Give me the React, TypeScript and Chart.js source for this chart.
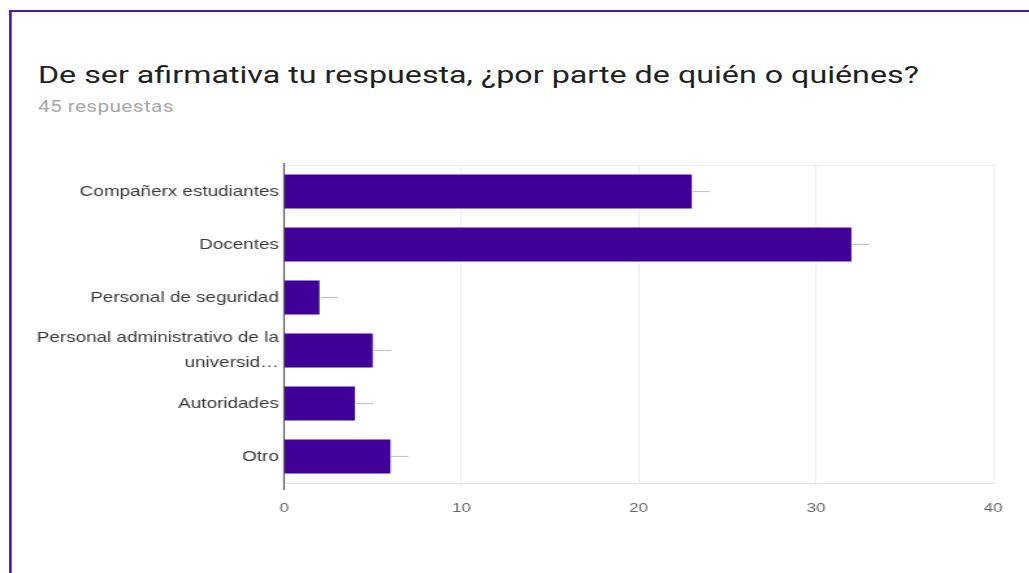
import React, { useEffect, useRef } from "react";
import { Chart, registerables } from "chart.js";

Chart.register(...registerables);

// ---- data ----
const titleText = "De ser afirmativa tu respuesta, ¿por parte de quién o quiénes?";
const subtitleText = "45 respuestas";
const categories: (string | string[])[] = [
  "Compañerx estudiantes",
  "Docentes",
  "Personal de seguridad",
  ["Personal administrativo de la", "universid…"],
  "Autoridades",
  "Otro",
];
const counts = [23, 32, 2, 5, 4, 6];
const xMin = 0;
const xMax = 40;
const xStep = 10;

// ---- layout (unscaled space; the whole picture is stretched horizontally) ----
const SX = 1.3;
const W = 1029 / SX;
const H = 573;
const CANVAS_TOP = 140;
const CANVAS_H = 400;
const BAR_COLOR = "#410098";

const framePlugin = {
  id: "frameLines",
  beforeDatasetsDraw(chart: any) {
    const { ctx, chartArea } = chart;
    ctx.save();
    ctx.strokeStyle = "#ececec";
    ctx.lineWidth = 1;
    ctx.beginPath();
    ctx.moveTo(chartArea.left, chartArea.top + 0.5);
    ctx.lineTo(chartArea.right, chartArea.top + 0.5);
    ctx.stroke();
    ctx.restore();
  },
  afterDatasetsDraw(chart: any) {
    const { ctx, chartArea } = chart;
    ctx.save();
    // value marks at the end of each bar
    const meta = chart.getDatasetMeta(0);
    ctx.strokeStyle = "#c4c4c4";
    ctx.lineWidth = 1.2;
    meta.data.forEach((bar: any) => {
      ctx.beginPath();
      ctx.moveTo(bar.x + 1, bar.y);
      ctx.lineTo(bar.x + 14, bar.y);
      ctx.stroke();
    });
    // vertical axis line
    ctx.strokeStyle = "#5a5a5a";
    ctx.lineWidth = 1.2;
    ctx.beginPath();
    ctx.moveTo(chartArea.left, chartArea.top - 2);
    ctx.lineTo(chartArea.left, chartArea.bottom + 7);
    ctx.stroke();
    ctx.restore();
  },
};

export default function App() {
  const canvasRef = useRef<HTMLCanvasElement | null>(null);

  useEffect(() => {
    if (!canvasRef.current) return;
    const chart = new Chart(canvasRef.current, {
      type: "bar",
      data: {
        labels: categories,
        datasets: [
          {
            data: counts,
            backgroundColor: BAR_COLOR,
            borderWidth: 0,
            categoryPercentage: 1,
            barPercentage: 0.64,
          },
        ],
      },
      options: {
        indexAxis: "y",
        responsive: false,
        animation: false,
        layout: { padding: { left: 0, right: 28, top: 25, bottom: 17 } },
        plugins: {
          legend: { display: false },
          tooltip: { enabled: false },
          title: { display: false },
        },
        scales: {
          x: {
            min: xMin,
            max: xMax,
            ticks: {
              stepSize: xStep,
              color: "#666",
              padding: 18,
              font: { family: "Liberation Sans, Arial", size: 13 },
            },
            grid: { color: "#ececec", lineWidth: 1, drawTicks: false },
            border: { display: true, color: "#e3e3e3" },
            afterFit(scale: any) {
              scale.height = 40;
            },
          },
          y: {
            ticks: {
              autoSkip: false,
              color: "#3a3a3a",
              padding: 4,
              font: { family: "Liberation Sans, Arial", size: 14.5, lineHeight: 1.75 },
            },
            grid: { display: false, drawTicks: false },
            border: { display: false },
            afterFit(scale: any) {
              scale.width = 218.5;
            },
          },
        },
      },
      plugins: [framePlugin],
    });
    return () => chart.destroy();
  }, []);

  return (
    <div
      style={{
        position: "fixed",
        left: 0,
        top: 0,
        width: W,
        height: H,
        overflow: "hidden",
        background: "#fff",
        transform: `scaleX(${SX})`,
        transformOrigin: "0 0",
      }}
    >
      <div
        style={{
          position: "absolute",
          left: 7,
          top: 9.5,
          width: 2000,
          height: 2000,
          borderTop: "2px solid #4b14ad",
          borderLeft: "2px solid #4b14ad",
        }}
      />
      <div
        style={{
          position: "absolute",
          left: 29.2,
          top: 60,
          fontFamily: "Roboto, sans-serif",
          fontSize: 24.8,
          lineHeight: "30px",
          color: "#222",
          whiteSpace: "nowrap",
        }}
      >
        {titleText}
      </div>
      <div
        style={{
          position: "absolute",
          left: 29.2,
          top: 98,
          fontFamily: "Roboto, sans-serif",
          fontSize: 16,
          letterSpacing: 0.3,
          lineHeight: "18px",
          color: "#a8a8a8",
          whiteSpace: "nowrap",
        }}
      >
        {subtitleText}
      </div>
      <canvas
        ref={canvasRef}
        width={Math.round(W)}
        height={CANVAS_H}
        style={{ position: "absolute", left: 0, top: CANVAS_TOP }}
      />
    </div>
  );
}
